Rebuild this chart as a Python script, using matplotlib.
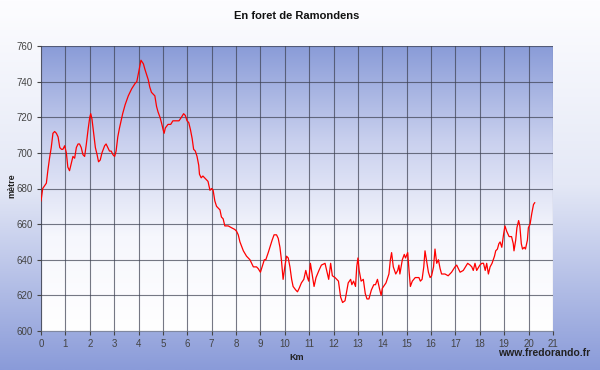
import matplotlib.pyplot as plt
import numpy as np
from matplotlib.colors import LinearSegmentedColormap

plt.rcParams['font.family'] = ['Liberation Sans', 'DejaVu Sans']

# distance (km) and elevation (m) read from the profile
km = [0.0, 0.07, 0.22, 0.28, 0.35, 0.42, 0.49, 0.56, 0.63, 0.7, 0.77, 0.84, 0.9, 0.97,
      1.04, 1.1, 1.17, 1.24, 1.31, 1.38, 1.45, 1.52, 1.58, 1.65, 1.72, 1.79, 1.86, 1.93,
      2.0, 2.04, 2.09, 2.16, 2.23, 2.3, 2.36, 2.43, 2.5, 2.61, 2.67, 2.74, 2.81, 2.88,
      2.95, 3.02, 3.08, 3.15, 3.22, 3.35, 3.45, 3.58, 3.72, 3.86, 3.93, 4.0, 4.1, 4.2,
      4.26, 4.4, 4.46, 4.53, 4.67, 4.74, 4.8, 4.88, 4.94, 5.01, 5.05, 5.1, 5.21, 5.32,
      5.41, 5.55, 5.66, 5.76, 5.85, 5.92, 5.99, 6.06, 6.13, 6.2, 6.26, 6.33, 6.4, 6.47,
      6.5, 6.57, 6.64, 6.71, 6.85, 6.93, 7.0, 7.06, 7.13, 7.2, 7.34, 7.4, 7.47, 7.54,
      7.68, 7.81, 7.95, 8.02, 8.09, 8.16, 8.3, 8.43, 8.57, 8.71, 8.84, 8.91, 9.0, 9.09,
      9.16, 9.22, 9.32, 9.39, 9.48, 9.56, 9.66, 9.73, 9.8, 9.86, 9.93, 10.0, 10.07,
      10.14, 10.21, 10.28, 10.34, 10.45, 10.52, 10.59, 10.68, 10.78, 10.86, 10.93,
      10.98, 11.05, 11.12, 11.2, 11.28, 11.4, 11.5, 11.65, 11.75, 11.8, 11.88, 11.95,
      12.06, 12.2, 12.29, 12.37, 12.47, 12.6, 12.7, 12.75, 12.82, 12.9, 12.95, 13.0,
      13.05, 13.13, 13.22, 13.3, 13.37, 13.45, 13.55, 13.65, 13.72, 13.8, 13.88, 13.95,
      14.0, 14.15, 14.27, 14.33, 14.38, 14.45, 14.55, 14.63, 14.68, 14.72, 14.82, 14.9,
      14.95, 15.04, 15.1, 15.15, 15.23, 15.35, 15.5, 15.56, 15.63, 15.7, 15.75, 15.82,
      15.89, 15.96, 16.02, 16.1, 16.16, 16.23, 16.3, 16.37, 16.43, 16.57, 16.7, 16.84,
      16.98, 17.05, 17.19, 17.32, 17.41, 17.5, 17.6, 17.67, 17.73, 17.8, 17.87, 18.0,
      18.08, 18.15, 18.22, 18.28, 18.35, 18.42, 18.5, 18.6, 18.65, 18.72, 18.78, 18.83,
      18.9, 18.97, 19.03, 19.1, 19.2, 19.3, 19.37, 19.4, 19.47, 19.52, 19.59, 19.64,
      19.7, 19.75, 19.82, 19.87, 19.95, 19.99, 20.06, 20.13, 20.2, 20.25]
elev = [673, 680, 683, 690, 697, 703, 711, 712, 711, 709, 703, 702, 702, 704,
        700, 692, 690, 694, 698, 697, 703, 705, 705, 703, 699, 698, 705, 713,
        720, 722, 719, 711, 703, 699, 695, 696, 700, 704, 705, 703, 701, 701,
        699, 698, 701, 709, 714, 722, 727, 732, 736, 739, 740, 745, 752, 750,
        747, 741, 737, 734, 732, 726, 723, 720, 717, 713, 711, 714, 716, 716,
        718, 718, 718, 720, 722, 721, 718, 717, 713, 708, 702, 701, 698, 693,
        688, 686, 687, 686, 684, 679, 680, 679, 673, 670, 668, 664, 663, 659,
        659, 658, 657, 656, 654, 650, 645, 642, 640, 636, 636, 635, 633, 637,
        640, 640, 644, 647, 651, 654, 654, 652, 647, 640, 629, 636, 642,
        641, 636, 629, 625, 623, 622, 624, 627, 629, 634, 630,
        628, 638, 632, 625, 630, 634, 637, 638, 632, 629, 638, 631,
        630, 628, 619, 616, 617, 627, 629, 626, 628, 625, 636, 641,
        634, 628, 629, 621, 618, 618, 623, 626, 626, 629, 624, 620,
        624, 627, 632, 640, 644, 636, 632, 634, 637, 632, 640, 643,
        641, 644, 633, 625, 628, 630, 630, 628, 629, 636, 645, 639,
        633, 630, 631, 636, 646, 638, 640, 635, 632, 632, 631, 633,
        636, 637, 633, 634, 636, 638, 637, 636, 634, 638, 634, 637,
        638, 638, 634, 638, 632, 636, 638, 642, 645, 646, 649, 650,
        647, 654, 659, 656, 653, 653, 649, 645, 651, 658, 662, 659,
        649, 646, 647, 646, 651, 658, 660, 666, 671, 672]

x_ticks = list(range(0, 22))
y_ticks = list(range(600, 761, 20))

fig = plt.figure(figsize=(6, 3.7), dpi=100)

# figure background: white at top, blue at bottom
bg = fig.add_axes([0, 0, 1, 1], zorder=-10)
bg_cmap = LinearSegmentedColormap.from_list('bg', ['#fdfdff', '#e4e8f6', '#8a9bd9'])
bg.imshow(np.linspace(0, 1, 256).reshape(-1, 1), cmap=bg_cmap, aspect='auto',
          extent=[0, 1, 0, 1], origin='upper')
bg.axis('off')

ax = fig.add_axes([41 / 600, 39 / 370, 512 / 600, 285 / 370])
plot_cmap = LinearSegmentedColormap.from_list(
    'plot', ['#ffffff', '#f6f7fd', '#c9d0ee', '#8a9cd8'])
ax.imshow(np.linspace(0, 1, 256).reshape(-1, 1), cmap=plot_cmap, aspect='auto',
          extent=[0, 21, 600, 760], origin='lower', zorder=0)

ax.plot(km, elev, color='#ff0000', lw=0.9, zorder=3)

ax.set_xlim(0, 21)
ax.set_ylim(600, 760)
ax.set_xticks(x_ticks)
ax.set_yticks(y_ticks)
ax.tick_params(labelsize=7, colors='#444444', length=3, width=0.8, pad=3)
ax.grid(True, color='#3c4050', lw=0.8, alpha=0.7, zorder=1)
ax.set_axisbelow(False)
for side in ['top', 'right']:
    ax.spines[side].set_visible(False)
for side in ['left', 'bottom']:
    ax.spines[side].set_color('#8088a0')

fig.text(297 / 600, 1 - 16 / 370, 'En foret de Ramondens', ha='center', va='center',
         fontsize=8, fontweight='bold', color='#111111')
fig.text(12 / 600, 1 - 186 / 370, 'mètre', rotation=90, ha='center', va='center',
         fontsize=6.5, fontweight='bold', color='#222222')
fig.text(297 / 600, 1 - 357 / 370, 'Km', ha='center', va='center',
         fontsize=6.5, fontweight='bold', color='#222222')
fig.text(590 / 600, 1 - 353 / 370, 'www.fredorando.fr', ha='right', va='center',
         fontsize=7.5, fontweight='bold', color='#222222')

fig.savefig('out.png', dpi=100)
